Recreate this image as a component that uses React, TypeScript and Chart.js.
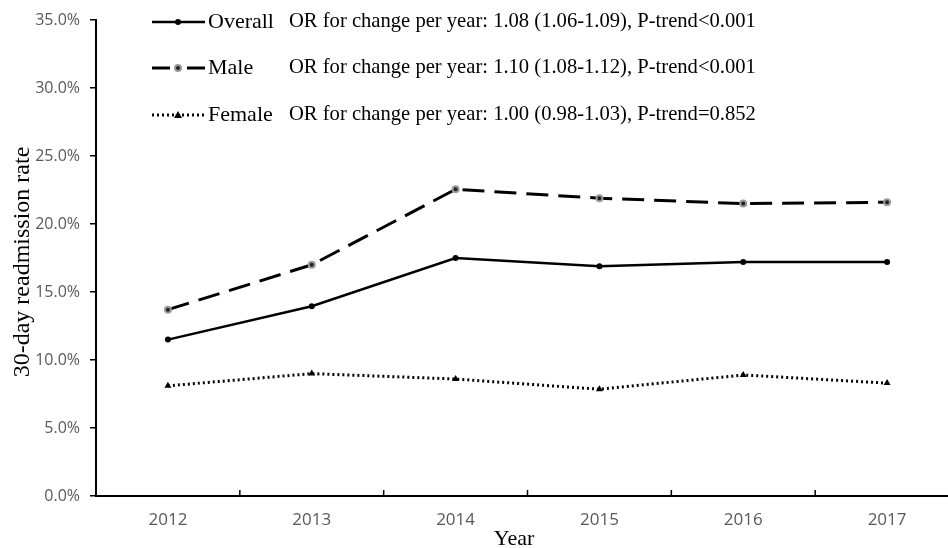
import React, { useEffect, useRef } from "react";
import { Chart, registerables } from "chart.js";

Chart.register(...registerables);

const years = ["2012", "2013", "2014", "2015", "2016", "2017"];
const overall = [0.115, 0.1395, 0.175, 0.169, 0.172, 0.172];
const male = [0.137, 0.170, 0.2255, 0.219, 0.215, 0.216];
const female = [0.081, 0.090, 0.086, 0.0785, 0.089, 0.083];
const seriesNames = ["Overall", "Male", "Female"];
const seriesNotes = [
  "OR for change per year: 1.08 (1.06-1.09), P-trend<0.001",
  "OR for change per year: 1.10 (1.08-1.12), P-trend<0.001",
  "OR for change per year: 1.00 (0.98-1.03), P-trend=0.852",
];
const yTitle = "30-day readmission rate";
const xTitle = "Year";

const SERIF = '"Liberation Serif", "Times New Roman", serif';
const SANS = '"Open Sans", "DejaVu Sans", sans-serif';

export default function App() {
  const ref = useRef<HTMLCanvasElement | null>(null);

  useEffect(() => {
    if (!ref.current) return;

    const overlay = {
      id: "overlay",
      afterDraw(chart: any) {
        const ctx = chart.ctx as CanvasRenderingContext2D;
        const xs = chart.scales.x;
        const area = chart.chartArea;
        ctx.save();
        // inward x ticks between categories
        ctx.strokeStyle = "#000";
        ctx.lineWidth = 1.5;
        for (let i = 0; i < years.length - 1; i++) {
          const px = (xs.getPixelForValue(i) + xs.getPixelForValue(i + 1)) / 2;
          ctx.beginPath();
          ctx.moveTo(px, area.bottom);
          ctx.lineTo(px, area.bottom - 6);
          ctx.stroke();
        }
        // axis titles
        ctx.fillStyle = "#000";
        ctx.font = `22px ${SERIF}`;
        ctx.textAlign = "center";
        ctx.textBaseline = "alphabetic";
        ctx.fillText(xTitle, 514, 545);
        ctx.save();
        ctx.translate(23, 262);
        ctx.rotate(-Math.PI / 2);
        ctx.font = `24px ${SERIF}`;
        ctx.textBaseline = "middle";
        ctx.fillText(yTitle, 0, 0);
        ctx.restore();

        // legend
        const rows = [22, 68, 115];
        const x0 = 152, x1 = 205, xm = 178;
        chart.data.datasets.forEach((ds: any, i: number) => {
          const y = rows[i];
          ctx.save();
          ctx.strokeStyle = "#000";
          ctx.lineWidth = 2.5;
          if (i === 0) {
            ctx.beginPath();
            ctx.moveTo(x0, y);
            ctx.lineTo(x1, y);
            ctx.stroke();
            ctx.fillStyle = "#000";
            ctx.beginPath();
            ctx.arc(xm, y, 3, 0, Math.PI * 2);
            ctx.fill();
          } else if (i === 1) {
            ctx.lineWidth = 3;
            ctx.beginPath();
            ctx.moveTo(x0, y);
            ctx.lineTo(170, y);
            ctx.moveTo(187, y);
            ctx.lineTo(x1, y);
            ctx.stroke();
            ctx.fillStyle = "#222";
            ctx.strokeStyle = "#9a9a9a";
            ctx.lineWidth = 2;
            ctx.beginPath();
            ctx.arc(xm, y, 3, 0, Math.PI * 2);
            ctx.fill();
            ctx.stroke();
          } else {
            ctx.setLineDash([2, 3]);
            ctx.lineWidth = 3;
            ctx.beginPath();
            ctx.moveTo(x0, y);
            ctx.lineTo(x1, y);
            ctx.stroke();
            ctx.setLineDash([]);
            ctx.fillStyle = "#000";
            ctx.beginPath();
            ctx.moveTo(xm, y - 4);
            ctx.lineTo(xm + 4, y + 3);
            ctx.lineTo(xm - 4, y + 3);
            ctx.closePath();
            ctx.fill();
          }
          ctx.fillStyle = "#000";
          ctx.textAlign = "left";
          ctx.textBaseline = "middle";
          ctx.font = `22px ${SERIF}`;
          ctx.fillText(seriesNames[i], 208, y);
          ctx.font = `20.6px ${SERIF}`;
          ctx.fillText(seriesNotes[i], 289, y);
          ctx.restore();
        });
        ctx.restore();
      },
    };

    const chart = new Chart(ref.current, {
      type: "line",
      data: {
        labels: years,
        datasets: [
          {
            label: seriesNames[0],
            data: overall,
            borderColor: "#000",
            borderWidth: 2.5,
            pointRadius: 3,
            pointBackgroundColor: "#000",
            pointBorderColor: "#000",
            pointBorderWidth: 0,
            tension: 0,
          },
          {
            label: seriesNames[1],
            data: male,
            borderColor: "#000",
            borderWidth: 3,
            borderDash: [22, 10],
            pointRadius: 3,
            pointBackgroundColor: "#222",
            pointBorderColor: "#9a9a9a",
            pointBorderWidth: 2,
            tension: 0,
          },
          {
            label: seriesNames[2],
            data: female,
            borderColor: "#000",
            borderWidth: 3,
            borderDash: [2, 3],
            pointStyle: "triangle",
            pointRadius: 4,
            pointBackgroundColor: "#000",
            pointBorderColor: "#000",
            pointBorderWidth: 0,
            tension: 0,
          },
        ],
      },
      options: {
        animation: false,
        responsive: true,
        maintainAspectRatio: false,
        layout: { padding: { top: 20, right: 13, left: 0, bottom: 0 } },
        plugins: {
          legend: { display: false },
          tooltip: { enabled: false },
          title: { display: false },
        },
        scales: {
          x: {
            type: "category",
            offset: true,
            grid: { display: true, drawOnChartArea: false, drawTicks: false, offset: true },
            border: { display: true, color: "#000", width: 2 },
            ticks: {
              color: "#595959",
              font: { family: SANS, size: 17 },
              padding: 14,
              maxRotation: 0,
            },
            afterFit: (s: any) => {
              s.height = 52;
            },
          },
          y: {
            min: 0,
            max: 0.35,
            grid: {
              display: true,
              drawOnChartArea: false,
              drawTicks: true,
              tickLength: 6,
              color: "#000",
              lineWidth: 1.5,
            },
            border: { display: true, color: "#000", width: 2 },
            ticks: {
              stepSize: 0.05,
              color: "#595959",
              font: { family: SANS, size: 16 },
              padding: 10,
              callback: (v: any) => (Number(v) * 100).toFixed(1) + "%",
            },
            afterFit: (s: any) => {
              s.width = 96;
            },
          },
        },
      },
      plugins: [overlay],
    });

    return () => chart.destroy();
  }, []);

  return (
    <div
      style={{
        position: "fixed",
        left: 0,
        top: 0,
        width: 948,
        height: 548,
        overflow: "hidden",
        background: "#fff",
      }}
    >
      <div style={{ position: "relative", width: 972, height: 548 }}>
        <canvas ref={ref} />
      </div>
    </div>
  );
}
